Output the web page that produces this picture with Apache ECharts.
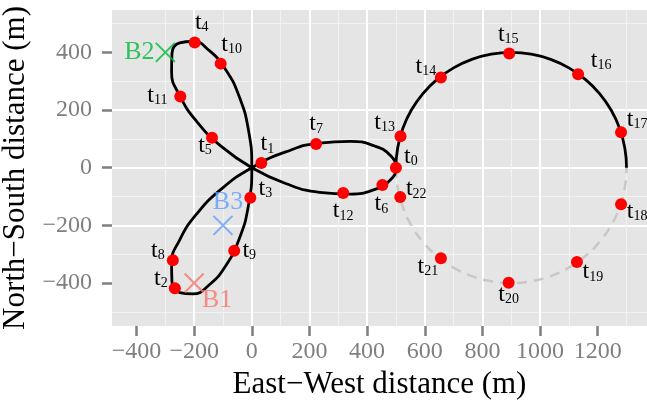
<!DOCTYPE html>
<html><head><meta charset="utf-8">
<script src="https://cdn.jsdelivr.net/npm/echarts@6/dist/echarts.min.js"></script>
<style>html,body{margin:0;padding:0;background:#fff}#c{width:647px;height:402px}</style>
</head><body><div id="c"></div>
<script>
// ---- data (metres) ----
const pointNames = ['0','1','2','3','4','5','6','7','8','9','10','11','12','13','14','15','16','17','18','19','20','21','22'];
const pointX = [500, 33, -267, -5, -198, -138, 453, 223, -274, -61, -108, -248, 317, 516, 656, 893, 1132, 1281, 1281, 1128, 891, 656, 515];
const pointY = [0, 16, -418, -104, 434, 104, -60, 82, -321, -288, 361, 247, -88, 109, 313, 396, 324, 123, -127, -327, -399, -314, -102];

// trefoil path
const roseX = [0, 117.3, 234.9, 341.5, 426.4, 481.1, 500, 481.1, 426.4, 341.5, 234.9, 117.3, 0, -106.0, -191.5, -250, -278.3, -277.0, -250, -204.1, -148.1, -91.5, -43.4, -11.3, 0, -11.3, -43.4, -91.5, -148.1, -204.1, -250, -277.0, -278.3, -250, -191.5, -106.0, 0];
const roseY = [0, -54.7, -85.5, -91.5, -75.2, -42.1, 0, 42.1, 75.2, 91.5, 85.5, 54.7, 0, -74.2, -160.7, -250, -331.7, -395.7, -433, -437.7, -406.9, -341.5, -246.2, -128.9, 0, 128.9, 246.2, 341.5, 406.9, 437.7, 433, 395.7, 331.7, 250, 160.7, 74.2, 0];

// circle: upper half (solid) and lower half (dashed)
const arcX = [500, 506.1, 524.1, 553.6, 593.6, 642.9, 700, 763.2, 830.5, 900, 969.5, 1036.8, 1100, 1157.1, 1206.4, 1246.4, 1275.9, 1293.9, 1300];
const arcTopY = [0, 69.5, 136.8, 200, 257.1, 306.4, 346.4, 375.9, 393.9, 400, 393.9, 375.9, 346.4, 306.4, 257.1, 200, 136.8, 69.5, 0];
const arcBottomY = [0, -69.5, -136.8, -200, -257.1, -306.4, -346.4, -375.9, -393.9, -400, -393.9, -375.9, -346.4, -306.4, -257.1, -200, -136.8, -69.5, 0];

const beaconNames = ['B1', 'B2', 'B3'];
const beaconX = [-200, -300, -100];
const beaconY = [-400, 400, -200];

const xTicks = [-400, -200, 0, 200, 400, 600, 800, 1000, 1200];
const yTicks = [-400, -200, 0, 200, 400];

// ---- styles ----
const FONT = 'Liberation Serif';
const labelOffsets = [[15,-11],[6,-19],[-14,-10],[15,-9],[7,-20],[-7,8],[-1,19],[0,-20],[-15,-10],[15,0],[11,-19],[-23,-1],[0,18],[-16,-14],[-15,-11],[-1,-19],[23,-14],[16,-13],[16,7],[16,10],[0,12],[-13,8],[16,-8]];
const beaconColors = ['#F8766D', '#00BA38', '#619CFF'];
const beaconOffsets = [[23,17],[-26,0],[5,-23]];

const zip = (xs, ys) => xs.map((x, i) => [x, ys[i]]);
const fmt = v => v < 0 ? '\u2212' + (-v) : String(v);

const axisCommon = {
  type: 'value',
  axisLine: { show: false, onZero: false },
  minInterval: 200, maxInterval: 200,
  splitLine: { show: true, showMinLine: false, showMaxLine: false, lineStyle: { color: '#ffffff', width: 2 } },
  minorTick: { show: false, splitNumber: 2 },
  minorSplitLine: { show: true, lineStyle: { color: '#f2f2f2', width: 1 } },
  nameLocation: 'middle',
  nameTextStyle: { fontFamily: FONT, fontSize: 31, color: '#000' }
};

const chart = echarts.init(document.getElementById('c'));
chart.setOption({
  animation: false,
  grid: { left: 112, right: 0, top: 10, bottom: 76, show: true, backgroundColor: '#e5e5e5', borderWidth: 0, containLabel: false, outerBoundsMode: 'none' },
  xAxis: Object.assign({}, axisCommon, {
    min: -485, max: 1371, splitNumber: 8,
    name: 'East\u2212West distance (m)', nameGap: 42,
    axisTick: { show: true, length: 10, customValues: xTicks, lineStyle: { color: '#7f7f7f', width: 2.5 } },
    axisLabel: { customValues: xTicks, formatter: fmt, color: '#7f7f7f', fontSize: 24, fontFamily: FONT, margin: 14 }
  }),
  yAxis: Object.assign({}, axisCommon, {
    min: -549, max: 547, splitNumber: 5,
    name: 'North\u2212South distance (m)', nameGap: 80,
    axisTick: { show: true, length: 10, customValues: yTicks, lineStyle: { color: '#7f7f7f', width: 2.5 } },
    axisLabel: { customValues: yTicks, formatter: fmt, color: '#7f7f7f', fontSize: 24, fontFamily: FONT, margin: 20 }
  }),
  series: [
    { type: 'line', data: zip(arcX, arcBottomY), smooth: 0.5, symbol: 'none', lineStyle: { color: '#c8c8c8', width: 2.5, type: [10, 7] }, z: 2 },
    { type: 'line', data: zip(roseX, roseY), smooth: 0.5, symbol: 'none', lineStyle: { color: '#000', width: 2.8 }, z: 3 },
    { type: 'line', data: zip(arcX, arcTopY), smooth: 0.5, symbol: 'none', lineStyle: { color: '#000', width: 2.8 }, z: 3 },
    {
      type: 'scatter', symbolSize: 12, itemStyle: { color: '#ff0000', opacity: 1 }, z: 4,
      data: pointX.map((x, i) => ({
        value: [x, pointY[i]],
        label: {
          show: true, position: 'inside', offset: labelOffsets[i],
          formatter: '{t|t}{s|' + pointNames[i] + '}',
          rich: {
            t: { fontFamily: FONT, fontSize: 24, color: '#000', verticalAlign: 'bottom', lineHeight: 24 },
            s: { fontFamily: FONT, fontSize: 14, color: '#000', verticalAlign: 'bottom', lineHeight: 14 }
          }
        }
      }))
    },
    {
      type: 'scatter', symbol: 'path://M0,0L20,20M20,0L0,20', symbolSize: 19, z: 5,
      data: beaconX.map((x, i) => ({
        value: [x, beaconY[i]],
        itemStyle: { color: 'transparent', borderColor: beaconColors[i], borderWidth: 2 },
        label: {
          show: true, position: 'inside', offset: beaconOffsets[i], formatter: beaconNames[i],
          fontFamily: FONT, fontSize: 26, color: beaconColors[i]
        }
      }))
    }
  ]
});
</script></body></html>
